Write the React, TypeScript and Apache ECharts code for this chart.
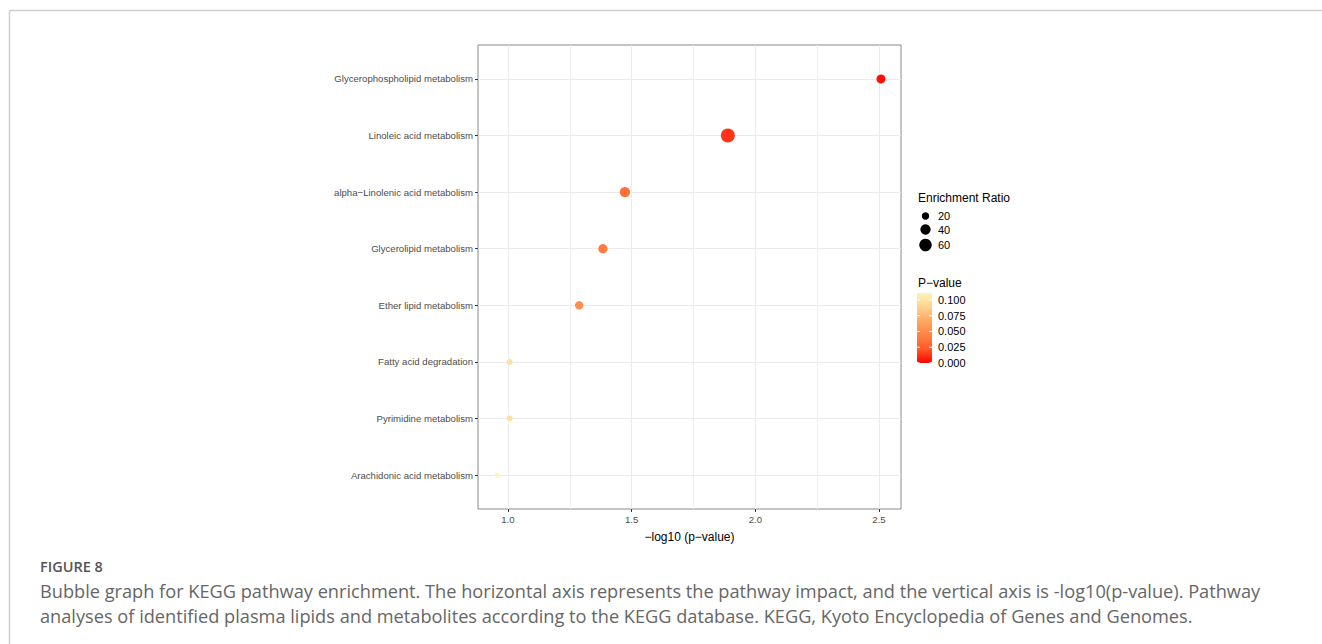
import React, { useEffect, useRef } from "react";
import * as echarts from "echarts";

const categories = [
  "Glycerophospholipid metabolism",
  "Linoleic acid metabolism",
  "alpha\u2212Linolenic acid metabolism",
  "Glycerolipid metabolism",
  "Ether lipid metabolism",
  "Fatty acid degradation",
  "Pyrimidine metabolism",
  "Arachidonic acid metabolism",
];
const negLog10P = [2.508, 1.889, 1.473, 1.384, 1.288, 1.007, 1.007, 0.955];
const enrichmentRatio = [30, 76, 40, 32, 26, 12, 12, 6];
const xTicks = [1.0, 1.5, 2.0, 2.5];
const xMinor = [1.25, 1.75, 2.25];
const sizeBreaks = [20, 40, 60];
const pBreaks = [0.1, 0.075, 0.05, 0.025, 0.0];
const colorStops = ["#FF0000", "#FF5A28", "#FF8244", "#FFA864", "#FFD290", "#FFF3B8"];

const P_MIN = 0;
const P_MAX = 0.111;

const symbolDiameter = (ratio: number) => Math.sqrt(6 + 2.5 * ratio);

export default function App() {
  const ref = useRef<HTMLDivElement>(null);
  useEffect(() => {
    if (!ref.current) return;
    const chart = echarts.init(ref.current, undefined, { renderer: "svg" });
    const data = categories.map((c, i) => [
      negLog10P[i],
      i + 1,
      enrichmentRatio[i],
      Math.pow(10, -negLog10P[i]),
    ]);
    const gridLeft = 478, gridTop = 45, gridW = 423, gridH = 464;
    const font = "'Liberation Sans', Arial, sans-serif";
    const capFont = "'Open Sans', Lato, sans-serif";
    const barTop = 293, barH = 70, barLeft = 917, barW = 15;
    const legendX = 918;
    const sizeY = [216, 229.5, 245];

    const graphics: any[] = [
      { type: "line", shape: { x1: 9.5, y1: 10.5, x2: 1322, y2: 10.5 }, style: { stroke: "#cfcfcf", lineWidth: 1.5 }, silent: true },
      { type: "line", shape: { x1: 9.5, y1: 10.5, x2: 9.5, y2: 644 }, style: { stroke: "#cfcfcf", lineWidth: 1.5 }, silent: true },
      { type: "text", x: legendX, y: 198, style: { text: "Enrichment Ratio", font: `12px ${font}`, fill: "#000", verticalAlign: "middle" } },
      { type: "text", x: legendX, y: 283, style: { text: "P\u2212value", font: `12px ${font}`, fill: "#000", verticalAlign: "middle" } },
      {
        type: "text", x: 40, y: 566,
        style: { text: "FIGURE 8", font: `600 14.5px ${capFont}`, fill: "#555", verticalAlign: "middle" },
      },
      {
        type: "text", x: 40, y: 591,
        style: { text: "Bubble graph for KEGG pathway enrichment. The horizontal axis represents the pathway impact, and the vertical axis is -log10(p-value). Pathway", font: `18.2px ${capFont}`, fill: "#666", verticalAlign: "middle" },
      },
      {
        type: "text", x: 40, y: 616,
        style: { text: "analyses of identified plasma lipids and metabolites according to the KEGG database. KEGG, Kyoto Encyclopedia of Genes and Genomes.", font: `18.2px ${capFont}`, fill: "#666", verticalAlign: "middle" },
      },
    ];
    sizeBreaks.forEach((v, i) => {
      graphics.push({ type: "circle", shape: { cx: 925.5, cy: sizeY[i], r: symbolDiameter(v) / 2 }, style: { fill: "#000" } });
      graphics.push({ type: "text", x: 938, y: sizeY[i], style: { text: String(v), font: `11px ${font}`, fill: "#000", verticalAlign: "middle" } });
    });
    pBreaks.forEach((v) => {
      const y = barTop + barH - ((v - P_MIN) / (P_MAX - P_MIN)) * barH;
      graphics.push({ type: "text", x: 938, y, style: { text: v.toFixed(3), font: `11px ${font}`, fill: "#000", verticalAlign: "middle" } });
      graphics.push({ type: "line", shape: { x1: barLeft, y1: y, x2: barLeft + 3, y2: y }, style: { stroke: "#fff", lineWidth: 1 }, z: 100 });
      graphics.push({ type: "line", shape: { x1: barLeft + barW - 3, y1: y, x2: barLeft + barW, y2: y }, style: { stroke: "#fff", lineWidth: 1 }, z: 100 });
    });

    chart.setOption({
      animation: false,
      backgroundColor: "#fff",
      grid: {
        left: gridLeft, top: gridTop, width: gridW, height: gridH,
        show: true, borderColor: "#8a8a8a", borderWidth: 1, backgroundColor: "#fff",
      },
      xAxis: [
        {
          type: "value", min: 0.879, max: 2.589,
          axisLine: { show: false },
          axisTick: { show: true, length: 3, lineStyle: { color: "#333" }, customValues: xTicks },
          axisLabel: { customValues: xTicks, formatter: (v: number) => v.toFixed(1), color: "#4d4d4d", fontSize: 9.6, fontFamily: font, margin: 5 },
          splitLine: { show: true, lineStyle: { color: "#ebebeb", width: 1 } },
          name: "\u2212log10 (p\u2212value)", nameLocation: "middle", nameGap: 22,
          nameTextStyle: { color: "#000", fontSize: 12, fontFamily: font },
        },
        {
          type: "value", min: 0.879, max: 2.589, position: "bottom",
          axisLine: { show: false },
          axisTick: { show: false, customValues: xMinor },
          axisLabel: { show: false, customValues: xMinor },
          splitLine: { show: true, lineStyle: { color: "#efefef", width: 1 } },
        },
      ],
      yAxis: {
        type: "value", min: 0.4, max: 8.6, inverse: true,
        axisLine: { show: false },
        axisTick: { show: true, length: 3, lineStyle: { color: "#333" }, customValues: categories.map((_, i) => i + 1) },
        axisLabel: {
          customValues: categories.map((_, i) => i + 1),
          formatter: (v: number) => categories[Math.round(v) - 1] ?? "",
          color: "#4d4d4d", fontSize: 9.6, fontFamily: font, margin: 5,
        },
        splitLine: { show: true, lineStyle: { color: "#ebebeb", width: 1 } },
      },
      visualMap: {
        type: "continuous", min: P_MIN, max: P_MAX, dimension: 3, seriesIndex: 0,
        calculable: false, left: barLeft, top: barTop, itemWidth: barW, itemHeight: barH,
        padding: 0, text: ["", ""], showLabel: false, hoverLink: false,
        inRange: { color: colorStops },
      },
      series: [
        {
          type: "scatter",
          xAxisIndex: 0,
          data,
          symbol: "circle",
          symbolSize: (d: number[]) => symbolDiameter(d[2]),
          itemStyle: { opacity: 1 },
          z: 5,
        },
      ],
      graphic: graphics,
    });
    return () => chart.dispose();
  }, []);
  return <div ref={ref} style={{ position: "absolute", left: 0, top: 0, width: 1322, height: 644 }} />;
}
